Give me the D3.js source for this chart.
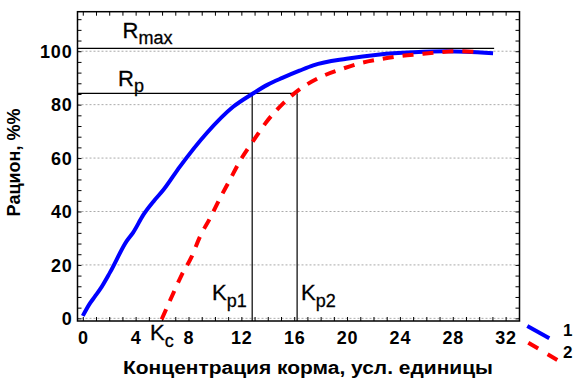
<!DOCTYPE html>
<html>
<head>
<meta charset="utf-8">
<script src="https://cdn.jsdelivr.net/npm/d3@7"></script>
<style>
html,body{margin:0;padding:0;background:#fff;}
svg{display:block;font-family:"Liberation Sans",Arial,sans-serif;}
</style>
</head>
<body>
<svg id="chart" width="587" height="382"></svg>
<script>
// ---- data ----
const xTickLabels = [0,4,8,12,16,20,24,28,32];
const yTickLabels = [0,20,40,60,80,100];
const series1X = [0,0.54,0.92,1.3,2.06,3.32,3.82,4.58,5.41,6.09,7.35,9.37,11.38,12.82,14.0,15.1,16.4,17.44,19.96,22.48,25,27.5,29.0,31.05];
const series1Y = [0.9,5.6,8.2,10.8,17.2,28.9,32.2,38.7,44.1,48,56.8,69.3,79.2,84,87.5,90,92.7,94.7,97.2,98.8,99.6,100,99.8,99.2];
const series2X = [5.97,6.85,7.48,8.24,8.87,9.62,10.38,11.13,11.94,12.95,13.91,15.17,16.35,18.07,19.58,20.97,22.48,24,25.38,26.89,28.28,29.8];
const series2Y = [-0.4,9.4,16.2,23.1,30.6,37.4,44.9,51.8,59.3,66.8,73.6,80.5,85.5,90.5,93.3,95.5,97,98.2,98.9,99.6,100,99.7];
const seriesNames = ["1","2"];
const Rmax = 101.1, Rp = 84.2, Kp1 = 12.82, Kp2 = 16.22, RmaxEnd = 31.13;
const xTitle = "Концентрация корма, усл. единицы";
const yTitle = "Рацион, %%";

// ---- layout ----
const L = 77.5, R = 519.5, T = 11.7, B = 321;
const svg = d3.select("#chart");
const x = d3.scaleLinear().domain([-0.4, 33.05]).range([L, R]);
const y = d3.scaleLinear().domain([-1, 114.8]).range([B, T]);

// grid
svg.append("g").selectAll("line").data(yTickLabels).join("line")
  .attr("x1", L).attr("x2", R).attr("y1", d => y(d)).attr("y2", d => y(d))
  .attr("stroke", "#aaa").attr("stroke-width", 1).attr("stroke-dasharray", "2,2");

// axes
const xMinor = d3.range(0, 33, 1);
const yMinor = d3.range(0, 115, 4);
const fmtX = d => (d % 4 === 0 ? d : "");
const fmtY = d => (d % 20 === 0 && d <= 100 ? d : "");

const gx = svg.append("g").attr("transform", `translate(0,${B})`)
  .call(d3.axisBottom(x).tickValues(xMinor).tickSize(-4).tickSizeOuter(0).tickFormat(fmtX));
const gxTop = svg.append("g").attr("transform", `translate(0,${T})`)
  .call(d3.axisTop(x).tickValues(xMinor).tickSize(-4).tickSizeOuter(0).tickFormat(""));
const gy = svg.append("g").attr("transform", `translate(${L},0)`)
  .call(d3.axisLeft(y).tickValues(yMinor).tickSize(-4).tickSizeOuter(0).tickFormat(fmtY));
const gyR = svg.append("g").attr("transform", `translate(${R},0)`)
  .call(d3.axisRight(y).tickValues(yMinor).tickSize(-4).tickSizeOuter(0).tickFormat(""));

[gx, gxTop, gy, gyR].forEach(g => {
  g.select(".domain").remove();
  g.selectAll(".tick line").attr("stroke", "#000").attr("stroke-width", 1);
});
gx.selectAll("text").attr("y", 23).attr("dy", null)
  .attr("font-size", 18).attr("font-weight", "bold").attr("fill", "#000")
  .attr("font-family", "Liberation Sans, Arial, sans-serif").style("letter-spacing", "0.8px");
gy.selectAll("text").attr("x", -5).attr("dy", "0.35em")
  .attr("font-size", 18).attr("font-weight", "bold").attr("fill", "#000")
  .attr("font-family", "Liberation Sans, Arial, sans-serif").style("letter-spacing", "0.8px");

// frame
svg.append("rect").attr("x", L).attr("y", T).attr("width", R - L).attr("height", B - T)
  .attr("fill", "none").attr("stroke", "#000").attr("stroke-width", 1.5);

// reference lines
const ref = svg.append("g").attr("stroke", "#000").attr("stroke-width", 1.2);
ref.append("line").attr("x1", L).attr("x2", x(RmaxEnd)).attr("y1", y(Rmax)).attr("y2", y(Rmax));
ref.append("line").attr("x1", L).attr("x2", x(Kp2)).attr("y1", y(Rp)).attr("y2", y(Rp));
ref.append("line").attr("x1", x(Kp1)).attr("x2", x(Kp1)).attr("y1", y(Rp)).attr("y2", B);
ref.append("line").attr("x1", x(Kp2)).attr("x2", x(Kp2)).attr("y1", y(Rp)).attr("y2", B);

// curves
const line = d3.line().x(d => x(d[0])).y(d => y(d[1])).curve(d3.curveMonotoneX);
const s1 = series1X.map((v, i) => [v, series1Y[i]]);
const s2 = series2X.map((v, i) => [v, series2Y[i]]);
svg.append("path").datum(s1).attr("d", line).attr("fill", "none")
  .attr("stroke", "#0000ff").attr("stroke-width", 4);
svg.append("path").datum(s2).attr("d", line).attr("fill", "none")
  .attr("stroke", "#ff0000").attr("stroke-width", 4).attr("stroke-dasharray", "11,9");

// annotation labels
function subLabel(px, py, main, sub, dy) {
  const t = svg.append("text").attr("x", px).attr("y", py)
    .attr("font-size", 22).attr("fill", "#000").attr("stroke", "#000").attr("stroke-width", 0.3);
  t.append("tspan").text(main);
  t.append("tspan").attr("dy", dy).attr("font-size", 18).text(sub);
}
subLabel(122.5, 37.5, "R", "max", 6.5);
subLabel(118, 85.5, "R", "p", 6);
subLabel(212, 299.5, "K", "p1", 7);
subLabel(301, 299.5, "K", "p2", 7);
subLabel(150, 340, "K", "c", 7);

// axis titles
svg.append("text").attr("x", 123).attr("y", 373.5)
  .attr("font-size", 18).attr("font-weight", "bold")
  .attr("textLength", 370).attr("lengthAdjust", "spacingAndGlyphs").text(xTitle);
svg.append("text").attr("transform", "translate(20,162.5) rotate(-90)")
  .attr("text-anchor", "middle").attr("font-size", 18).attr("font-weight", "bold").text(yTitle);

// legend
const leg = svg.append("g");
leg.append("line").attr("x1", 527.3).attr("y1", 326).attr("x2", 549.3).attr("y2", 338.3)
  .attr("stroke", "#0000ff").attr("stroke-width", 4);
leg.append("line").attr("x1", 528.3).attr("y1", 342.7).attr("x2", 557.3).attr("y2", 360)
  .attr("stroke", "#ff0000").attr("stroke-width", 4).attr("stroke-dasharray", "11.5,11");
leg.selectAll("text").data(seriesNames).join("text")
  .attr("x", 563).attr("y", (d, i) => i === 0 ? 336 : 358.3)
  .attr("font-size", 17).attr("font-weight", "bold").text(d => d);
</script>
</body>
</html>
